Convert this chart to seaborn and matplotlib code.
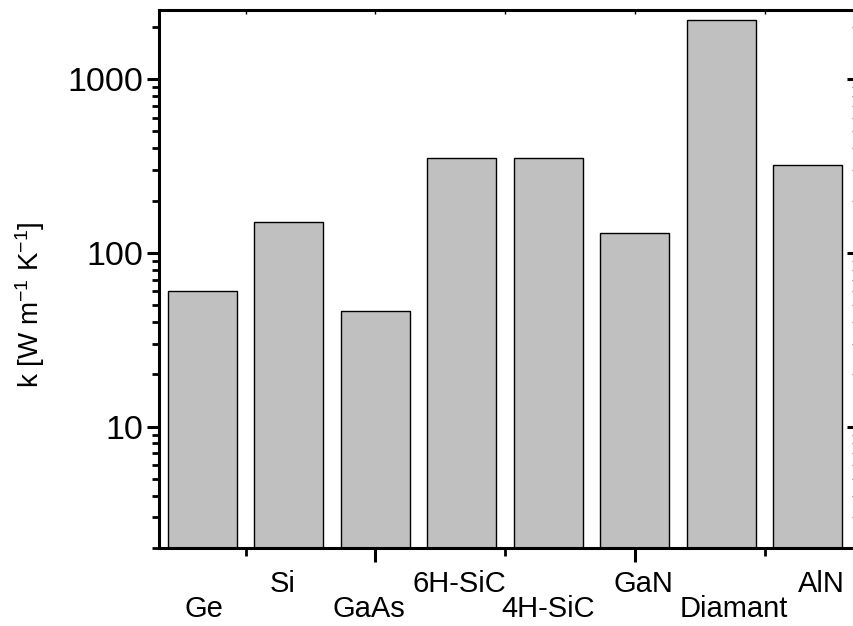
import matplotlib
matplotlib.use("Agg")
import matplotlib.pyplot as plt
import matplotlib.transforms as mtransforms
from matplotlib.ticker import LogLocator, FixedLocator, NullFormatter
import seaborn as sns

# ---- data ----
materials = ["Ge", "Si", "GaAs", "6H-SiC", "4H-SiC", "GaN", "Diamant", "AlN"]
conductivity = [60, 150, 46, 350, 350, 130, 2200, 320]
ytick_values = [10, 100, 1000]
ytick_labels = ["10", "100", "1000"]

sns.set_theme(style="white")
plt.rcParams["font.family"] = ["Liberation Sans", "DejaVu Sans"]
plt.rcParams["mathtext.fontset"] = "custom"
plt.rcParams["mathtext.rm"] = "Liberation Sans"
plt.rcParams["text.color"] = "black"
plt.rcParams["xtick.labelcolor"] = "black"
plt.rcParams["ytick.labelcolor"] = "black"
plt.rcParams["xtick.color"] = "black"
plt.rcParams["ytick.color"] = "black"

fig = plt.figure(figsize=(8.54, 6.26), dpi=100)
ax = fig.add_axes([159 / 854, 1 - 548 / 626, (858 - 159) / 854, (548 - 10) / 626])

sns.barplot(x=materials, y=conductivity, color="#c0c0c0", saturation=1,
            edgecolor="black", linewidth=1.0, width=0.8, ax=ax)

ax.set_yscale("log")
ax.set_ylim(2, 2500)
ax.set_xlim(-0.5, 7.58)

# spines
for side in ["left", "bottom", "top", "right"]:
    ax.spines[side].set_visible(True)
    ax.spines[side].set_color("black")
    ax.spines[side].set_linewidth(2.2)

# y ticks (left, outward)
ax.yaxis.set_major_locator(FixedLocator(ytick_values))
ax.set_yticklabels(ytick_labels)
ax.yaxis.set_minor_locator(LogLocator(base=10, subs=range(2, 10)))
ax.yaxis.set_minor_formatter(NullFormatter())
ax.tick_params(axis="y", which="major", direction="out", length=9, width=2.2,
               labelsize=24.5, pad=2, left=True, right=False, color="black",
               labelcolor="black")
ax.tick_params(axis="y", which="minor", direction="out", length=5, width=2.0,
               left=True, right=False, color="black")

# right ticks (inward)
ax2 = ax.twinx()
ax2.set_yscale("log")
ax2.set_ylim(ax.get_ylim())
ax2.yaxis.set_major_locator(FixedLocator(ytick_values))
ax2.yaxis.set_minor_locator(LogLocator(base=10, subs=range(2, 10)))
ax2.yaxis.set_major_formatter(NullFormatter())
ax2.yaxis.set_minor_formatter(NullFormatter())
ax2.tick_params(axis="y", which="major", direction="in", length=8, width=2.2, color="black")
ax2.tick_params(axis="y", which="minor", direction="in", length=4.5, width=0.8, color="#555555")
for s in ax2.spines.values():
    s.set_visible(False)

# x ticks (bottom outward, top inward)
ax.xaxis.set_major_locator(FixedLocator([2, 5]))
ax.xaxis.set_minor_locator(FixedLocator([0.5, 3.5, 6.5]))
ax.set_xticklabels([])
ax.tick_params(axis="x", which="major", direction="out", length=10, width=2.2,
               bottom=True, top=False, color="black")
ax.tick_params(axis="x", which="minor", direction="out", length=6, width=2.0,
               bottom=True, top=False, color="black")
ax3 = ax.secondary_xaxis("top")
ax3.xaxis.set_major_locator(FixedLocator([2, 5]))
ax3.xaxis.set_minor_locator(FixedLocator([0.5, 3.5, 6.5]))
ax3.xaxis.set_major_formatter(NullFormatter())
ax3.tick_params(axis="x", which="both", direction="in", length=3, width=1.0, color="black")
ax3.spines["top"].set_visible(False)

ax.set_xlabel("")
ax.set_ylabel("")

# staggered category labels
trans = mtransforms.blended_transform_factory(ax.transData, ax.transAxes)
label_shift = [0.02, -0.07, -0.07, -0.03, 0.0, 0.1, 0.15, 0.16]
for i, name in enumerate(materials):
    yy = -0.0818 if i % 2 == 1 else -0.128
    ax.text(i + label_shift[i], yy, name, transform=trans, ha="center",
            va="baseline", fontsize=21, color="black")

fig.text(30 / 854, 1 - 305 / 626,
         r"k [W m$\mathregular{^{-1}}$ K$\mathregular{^{-1}}$]",
         rotation=90, ha="center", va="center", fontsize=20, color="black")

fig.savefig("out.png", dpi=100)
